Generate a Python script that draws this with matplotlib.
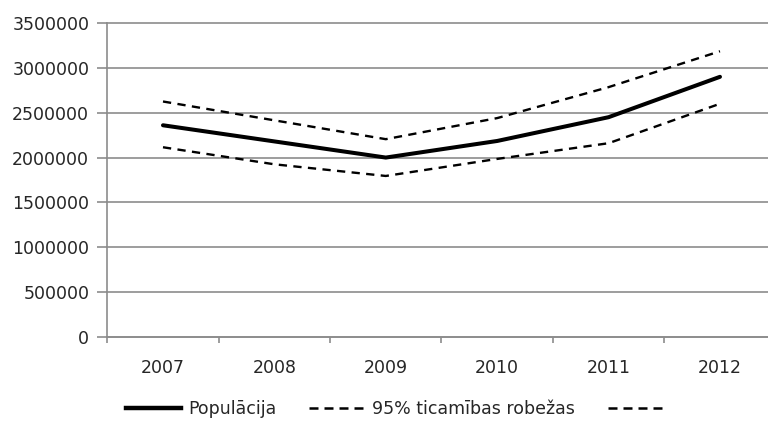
import numpy as np
import matplotlib
matplotlib.use("Agg")
import matplotlib.pyplot as plt
from matplotlib.lines import Line2D
from matplotlib.ticker import MultipleLocator, FixedLocator, NullFormatter

years = ["2007", "2008", "2009", "2010", "2011", "2012"]
population = [2360000, 2180000, 2000000, 2185000, 2450000, 2900000]
upper_95 = [2625000, 2415000, 2205000, 2440000, 2785000, 3185000]
lower_95 = [2115000, 1925000, 1795000, 1985000, 2160000, 2600000]

TEXT = "#262626"
GRID = "#8c8c8c"

plt.rcParams["font.family"] = ["DejaVu Sans"]
plt.rcParams["font.size"] = 12.5

fig = plt.figure(figsize=(7.68, 4.21), dpi=100)
ax = fig.add_axes([0.1397, 0.1995, 0.8703, 0.7459])

x = np.arange(len(years))
dash = (3.5, 2.7)
ax.plot(x, population, color="black", linewidth=2.9, solid_capstyle="round", zorder=3)
ax.plot(x, upper_95, color="black", linewidth=1.7, linestyle=(0, dash), zorder=3)
ax.plot(x, lower_95, color="black", linewidth=1.7, linestyle=(0, dash), zorder=3)

ax.set_xlim(-0.5, len(years) - 0.5)
ax.set_ylim(0, 3500000)

ax.yaxis.set_major_locator(MultipleLocator(500000))
ax.yaxis.set_major_formatter(matplotlib.ticker.FuncFormatter(lambda v, p: f"{int(v)}"))
ax.yaxis.grid(True, color=GRID, linewidth=1.2)
for gl in ax.get_ygridlines():
    gl.set_clip_on(False)
ax.set_axisbelow(True)

ax.set_xticks(x)
ax.set_xticklabels(years)
ax.xaxis.set_minor_locator(FixedLocator(np.arange(-0.5, len(years), 1.0)))
ax.xaxis.set_minor_formatter(NullFormatter())
ax.tick_params(axis="x", which="major", length=0, pad=15.5, colors=TEXT)
ax.tick_params(axis="x", which="minor", length=4.5, width=1.2, color=GRID)
ax.tick_params(axis="y", length=7.5, width=1.2, color=GRID, pad=5.5, labelcolor=TEXT)

for side in ["top", "right"]:
    ax.spines[side].set_visible(False)
for side in ["left", "bottom"]:
    ax.spines[side].set_color(GRID)
    ax.spines[side].set_linewidth(1.2)

# legend: thick solid, then two dashed keys (the last one has no text)
handles = [
    Line2D([], [], color="black", linewidth=3.2),
    Line2D([], [], color="black", linewidth=1.8, linestyle=(0, (3.6, 2.4))),
    Line2D([], [], color="black", linewidth=1.8, linestyle=(0, (3.6, 2.4))),
]
labels = ["Populācija", "95% ticamības robežas", ""]
fig.legend(handles, labels, loc="center", bbox_to_anchor=(0.518, 0.028), ncol=3,
           frameon=False, handlelength=3.2, handletextpad=0.4, columnspacing=1.9,
           borderpad=0, labelcolor=TEXT)

fig.savefig("out.png", dpi=100, facecolor="white")
